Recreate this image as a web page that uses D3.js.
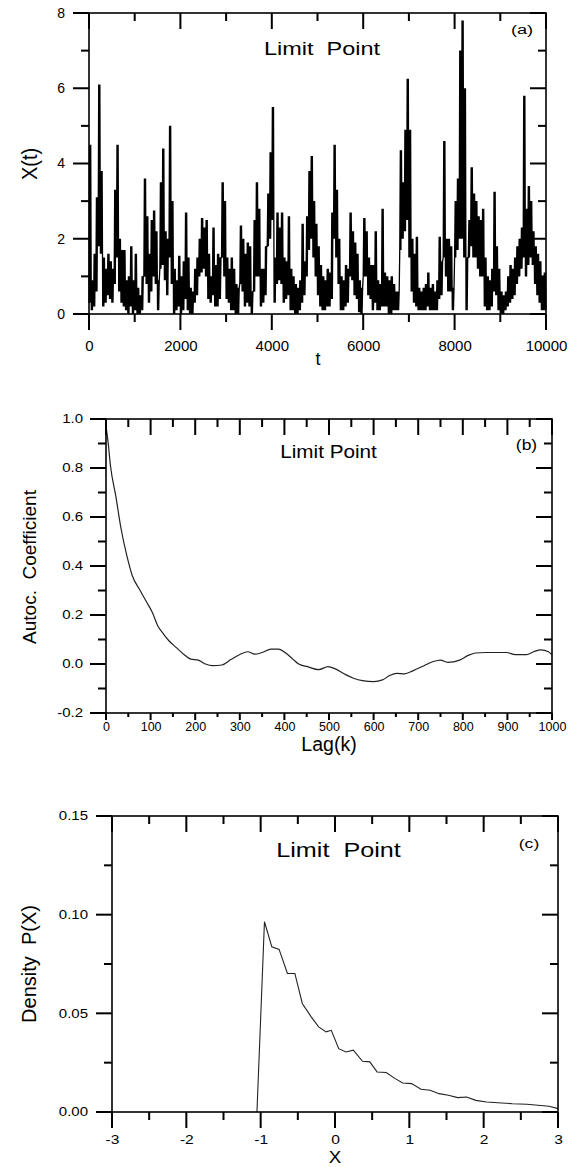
<!DOCTYPE html>
<html><head><meta charset="utf-8">
<script src="https://cdn.jsdelivr.net/npm/d3@7"></script>
<style>body{margin:0;background:#fff}svg{display:block}</style>
</head><body>
<svg id="chart" width="571" height="1167" style="background:#fff"></svg>
<script>
// ---------- DATA ----------
// Panel (a): time series X(t), summarised per 50-step bin as low / high envelope
const tsStep = 50;
const tsHigh = [
 4.5,0.9,1.6,3.1,6.1,3.8,1.5,1.2,1.6,1.4,
 1.2,3.3,4.5,2.0,1.7,1.7,0.9,1.0,1.8,0.9,
 1.6,0.7,0.5,1.0,3.6,2.6,1.6,2.5,2.75,2.2,
 0.9,3.5,4.4,2.2,2.0,5.0,3.0,1.2,0.9,1.55,
 1.0,1.4,2.7,1.5,0.7,0.6,1.2,1.5,2.0,2.55,
 2.3,2.5,1.6,1.0,2.3,1.3,1.6,1.5,3.5,3.0,
 1.5,1.2,1.5,1.2,0.8,0.7,2.35,2.0,1.6,1.9,
 1.8,0.6,2.5,3.5,2.8,1.2,1.2,1.8,3.2,4.3,
 5.5,1.5,2.7,2.3,2.7,1.5,1.4,2.6,1.2,1.0,
 0.8,0.7,0.9,2.4,1.4,2.6,3.8,4.2,3.0,2.4,
 1.8,1.3,1.0,0.9,1.2,1.1,2.7,4.5,3.3,2.0,
 1.0,0.9,1.3,1.2,2.7,2.2,1.9,1.6,0.9,0.7,
 2.55,2.2,1.5,1.3,1.3,2.2,0.9,0.8,2.8,1.1,
 1.0,0.9,1.0,0.8,0.6,0.6,4.35,3.5,4.9,6.25,
 4.9,2.0,1.6,2.05,0.7,0.6,0.7,0.8,1.1,0.7,
 0.8,0.6,0.9,2.05,1.4,4.6,2.0,2.0,1.8,0.7,
 3.0,3.6,7.0,7.8,6.0,1.5,2.5,3.9,3.2,3.0,
 2.6,2.5,2.8,1.5,1.0,0.9,1.2,3.25,1.8,1.2,
 0.6,0.5,0.6,1.0,1.3,1.2,1.5,1.8,2.0,2.3,
 5.8,2.8,3.4,3.0,2.2,1.8,1.6,1.4,1.0,1.1
];
const tsLow = [
 0.3,0.1,0.2,0.6,1.8,1.6,0.2,0.3,0.5,0.4,
 0.3,0.8,1.5,0.6,0.3,0.2,0.1,0.0,0.2,0.0,
 0.1,0.0,0.0,0.1,1.0,0.8,0.3,0.6,1.0,0.8,
 0.1,1.2,1.3,0.9,0.5,1.5,0.8,0.0,0.1,0.2,
 0.0,0.1,0.4,0.1,0.0,0.0,0.3,0.5,1.0,1.1,
 1.2,1.0,0.4,0.3,0.5,0.2,0.2,0.4,1.5,1.0,
 0.4,0.3,0.1,0.1,0.0,0.0,0.8,0.6,0.2,0.3,
 0.2,0.0,0.6,1.0,1.0,0.2,0.3,0.5,1.8,2.0,
 2.5,0.3,0.8,0.9,0.8,0.3,0.4,0.5,0.1,0.1,
 0.0,0.0,0.1,0.3,0.5,1.0,1.7,2.0,1.5,1.0,
 0.5,0.2,0.1,0.1,0.2,0.2,0.4,2.0,1.5,0.8,
 0.1,0.1,0.2,0.3,1.0,0.9,0.5,0.4,0.05,0.0,
 1.0,1.0,0.5,0.4,0.1,0.3,0.1,0.1,0.2,0.2,
 0.2,0.0,0.0,0.1,0.1,0.1,1.7,2.0,2.2,2.5,
 1.5,0.6,0.3,0.2,0.1,0.1,0.1,0.1,0.2,0.1,
 0.1,0.1,0.1,0.4,0.5,1.5,1.0,0.6,0.6,0.1,
 1.5,1.7,2.0,2.0,1.5,0.1,1.5,1.8,1.5,1.5,
 1.2,1.0,1.0,0.2,0.1,0.1,0.2,0.6,0.5,0.1,
 0.0,0.0,0.1,0.2,0.3,0.4,0.5,0.8,1.0,1.2,
 1.5,1.0,1.3,1.5,1.3,0.8,0.5,0.3,0.1,0.1
];
const aXMajor = [0,2000,4000,6000,8000,10000];
const aXMinor = [1000,3000,5000,7000,9000];
const aYMajor = [0,2,4,6,8];
const aYMinor = [1,3,5,7];

// Panel (b): autocorrelation coefficient vs lag
const acfLag = [0,5,10,22,34,47,59,75,92,104,116,129,141,157,174,190,207,223,239,260,280,301,318,334,350,370,387,403,420,432,452,477,498,514,534,555,575,600,620,636,652,669,689,713,734,750,766,793,811,828,852,877,898,918,943,959,975,992,1000];
const acfValue = [0.97,0.9,0.81,0.685,0.55,0.44,0.36,0.305,0.25,0.21,0.156,0.122,0.095,0.068,0.04,0.02,0.016,0.0,-0.007,-0.004,0.018,0.04,0.05,0.04,0.047,0.061,0.061,0.045,0.018,0.0,-0.011,-0.023,-0.011,-0.02,-0.04,-0.058,-0.068,-0.072,-0.065,-0.047,-0.038,-0.04,-0.027,-0.007,0.01,0.016,0.007,0.016,0.034,0.045,0.047,0.047,0.047,0.038,0.038,0.05,0.058,0.05,0.037];
const bXMajor = [0,100,200,300,400,500,600,700,800,900,1000];
const bXMinor = [50,150,250,350,450,550,650,750,850,950];
const bYMajor = [-0.2,0,0.2,0.4,0.6,0.8,1.0];
const bYMinor = [-0.1,0.1,0.3,0.5,0.7,0.9];

// Panel (c): density P(X)
const densX = [-1.05,-0.949,-0.85,-0.752,-0.64,-0.54,-0.44,-0.32,-0.22,-0.12,-0.05,0.05,0.148,0.246,0.37,0.468,0.566,0.689,0.81,0.91,1.03,1.157,1.28,1.40,1.526,1.65,1.77,1.894,2.04,2.19,2.386,2.58,2.73,2.88,3.0];
const densP = [0.0,0.0964,0.0837,0.0824,0.0702,0.0702,0.055,0.0482,0.0431,0.0406,0.0414,0.0321,0.0304,0.0313,0.0257,0.0254,0.0203,0.02,0.0169,0.0147,0.0144,0.0115,0.011,0.0093,0.0085,0.0073,0.0076,0.0059,0.0051,0.0047,0.0042,0.0039,0.0034,0.0029,0.0017];
const cXMajor = [-3,-2,-1,0,1,2,3];
const cXMinor = [-2.5,-1.5,-0.5,0.5,1.5,2.5];
const cYMajor = [0,0.05,0.10,0.15];
const cYMinor = [0.025,0.075,0.125];

// ---------- DRAWING ----------
const FONT = "'Liberation Sans', Arial, Helvetica, sans-serif";
const svg = d3.select("#chart");
const layerMarks = svg.append("g");
const layerText = svg.append("g");
const layerTicks = svg.append("g");   // tick marks on top of everything

function stretchText(s, side, sx){
  if (sx === 1) return;
  s.selectAll("text").each(function(){
    const t = d3.select(this);
    if (side === "left") {
      const xx = +t.attr("x");
      t.attr("x",0).attr("transform",`translate(${xx},0) scale(${sx},1)`);
    } else {
      t.attr("transform",`scale(${sx},1)`);
    }
  });
}

// tick marks as filled rectangles, positions from the scales
function tickRects(vals, len, side, x, y, c, w){
  const sel = layerTicks.append("g").selectAll("rect").data(vals).join("rect").attr("fill","#000");
  if (side === "bottom") sel.attr("x",d=>x(d)-w/2).attr("y",c.bottom).attr("width",w).attr("height",len);
  if (side === "top")    sel.attr("x",d=>x(d)-w/2).attr("y",c.top).attr("width",w).attr("height",len);
  if (side === "left")   sel.attr("y",d=>y(d)-w/2).attr("x",c.left-len).attr("height",w).attr("width",len);
  if (side === "right")  sel.attr("y",d=>y(d)-w/2).attr("x",c.right-len).attr("height",w).attr("width",len);
}

function panel(c){
  const g = layerMarks.append("g");
  const x = d3.scaleLinear().domain(c.xDomain).range([c.left, c.right]);
  const y = d3.scaleLinear().domain(c.yDomain).range([c.bottom, c.top]);
  // frame
  layerTicks.append("rect").attr("x",c.left).attr("y",c.top)
    .attr("width",c.right-c.left).attr("height",c.bottom-c.top)
    .attr("fill","none").attr("stroke","#000").attr("stroke-width",1.6);
  const W = 2;
  tickRects(c.xMajor, c.bMaj, "bottom", x, y, c, W);
  tickRects(c.xMinor, c.bMin, "bottom", x, y, c, W);
  tickRects(c.xMajor, 16, "top", x, y, c, W);
  tickRects(c.xMinor, 8, "top", x, y, c, W);
  tickRects(c.yMajor, 16, "left", x, y, c, W);
  tickRects(c.yMinor, 8, "left", x, y, c, W);
  tickRects(c.yMajor, 16, "right", x, y, c, W);
  tickRects(c.yMinor, 8, "right", x, y, c, W);
  // tick labels via d3 axes
  layerText.append("g").attr("transform",`translate(0,${c.bottom})`)
    .call(d3.axisBottom(x).tickValues(c.xMajor).tickSize(0).tickPadding(c.bMaj + c.xPad).tickFormat(c.xFmt))
    .call(s=>{s.select(".domain").remove(); s.selectAll(".tick line").remove();
      s.attr("font-family",FONT).attr("font-size",c.xFont); s.selectAll("text").attr("fill","#000");})
    .call(s=>stretchText(s,"bottom",c.xSx));
  layerText.append("g").attr("transform",`translate(${c.left},0)`)
    .call(d3.axisLeft(y).tickValues(c.yMajor).tickSize(0).tickPadding(16 + c.yPad).tickFormat(c.yFmt))
    .call(s=>{s.select(".domain").remove(); s.selectAll(".tick line").remove();
      s.attr("font-family",FONT).attr("font-size",c.yFont); s.selectAll("text").attr("fill","#000");})
    .call(s=>stretchText(s,"left",c.ySx));
  return {g,x,y};
}

function label(str, x, y, size, sx, rotate){
  layerText.append("text")
    .attr("transform",`translate(${x},${y}) scale(${sx},1)` + (rotate ? " rotate(-90)" : ""))
    .attr("text-anchor","middle")
    .attr("dy", rotate ? "0.36em" : null)
    .attr("font-family",FONT).attr("font-size",size).attr("fill","#000")
    .style("white-space","pre")
    .text(str);
}

// ----- Panel (a)
{
  const p = panel({left:89,right:546,top:13,bottom:314,
    xDomain:[0,10000], yDomain:[0,8],
    xMajor:aXMajor, xMinor:aXMinor, yMajor:aYMajor, yMinor:aYMinor,
    bMaj:16, bMin:8, xPad:10, yPad:8,
    xFont:15, xSx:1, yFont:14, ySx:1,
    xFmt:d=>String(d), yFmt:d=>String(d)});
  // each 50-step bin swings twice between its low and high envelope values
  const pts = [];
  const q = tsStep/4;
  tsHigh.forEach((h,i)=>{
    const t0 = i*tsStep;
    pts.push([t0, tsLow[i]], [t0+q, h], [t0+2*q, tsLow[i]], [t0+3*q, h]);
  });
  pts.push([10000, tsLow[tsLow.length-1]]);
  p.g.append("path").datum(pts)
    .attr("d", d3.line().x(d=>p.x(d[0])).y(d=>p.y(d[1])))
    .attr("fill","none").attr("stroke","#000").attr("stroke-width",1.3);
  label("Limit  Point", 322, 55, 18.5, 1.27, false);
  label("(a)", 522, 34, 13.5, 1.35, false);
  label("t", 318, 365, 18, 1, false);
  label("X(t)", 29, 164, 20, 1.1, true);
}

// ----- Panel (b)
{
  const p = panel({left:106,right:552,top:419,bottom:713,
    xDomain:[0,1000], yDomain:[-0.2,1.0],
    xMajor:bXMajor, xMinor:bXMinor, yMajor:bYMajor, yMinor:bYMinor,
    bMaj:7, bMin:4, xPad:2, yPad:7,
    xFont:12.5, xSx:1, yFont:12, ySx:1.25,
    xFmt:d=>String(d), yFmt:d=>d.toFixed(1)});
  p.g.append("path").datum(acfLag.map((k,i)=>[k,acfValue[i]]))
    .attr("d", d3.line().curve(d3.curveMonotoneX).x(d=>p.x(d[0])).y(d=>p.y(d[1])))
    .attr("fill","none").attr("stroke","#222").attr("stroke-width",1.2);
  label("Limit Point", 328.5, 458, 18, 1.15, false);
  label("(b)", 526.5, 450, 14, 1.25, false);
  label("Lag(k)", 329, 751, 19.5, 1, false);
  label("Autoc.  Coefficient", 29, 567, 19, 1, true);
}

// ----- Panel (c)
{
  const p = panel({left:112,right:558,top:816,bottom:1112,
    xDomain:[-3,3], yDomain:[0,0.15],
    xMajor:cXMajor, xMinor:cXMinor, yMajor:cYMajor, yMinor:cYMinor,
    bMaj:16, bMin:8, xPad:7, yPad:8,
    xFont:12, xSx:1.3, yFont:12, ySx:1.25,
    xFmt:d=>String(d), yFmt:d=>d.toFixed(2)});
  p.g.append("path").datum(densX.map((v,i)=>[v,densP[i]]))
    .attr("d", d3.line().x(d=>p.x(d[0])).y(d=>p.y(d[1])))
    .attr("fill","none").attr("stroke","#222").attr("stroke-width",1.1);
  label("Limit  Point", 338.5, 857, 20, 1.26, false);
  label("(c)", 529, 848, 13, 1.35, false);
  label("X", 335, 1163, 17, 1.1, false);
  label("Density  P(X)", 28.5, 964, 20, 1, true);
}
</script>
</body></html>
